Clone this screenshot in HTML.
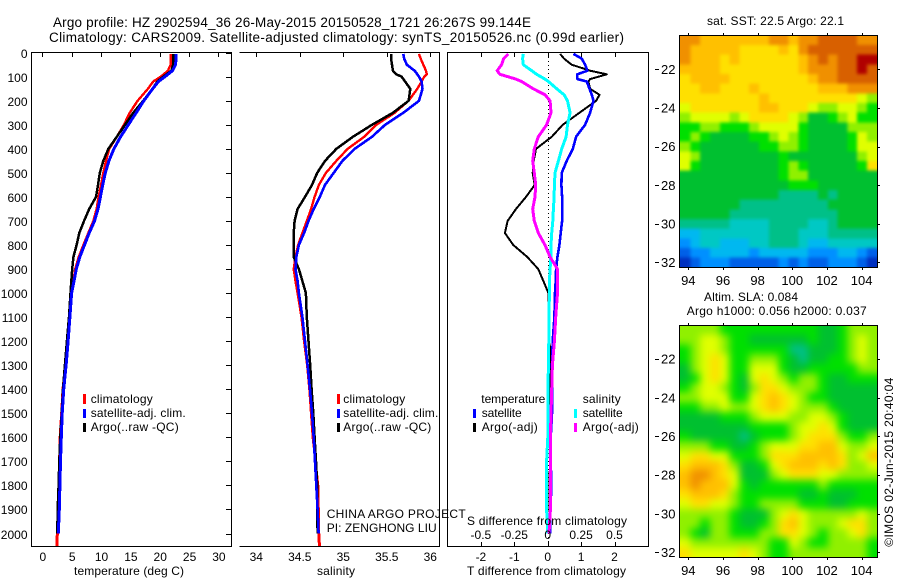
<!DOCTYPE html>
<html lang="en">
<head>
<meta charset="utf-8">
<title>Argo profile HZ 2902594_36</title>
<style>
html,body{margin:0;padding:0;background:#fff;}
svg{display:block;}
text{font-family:"Liberation Sans",sans-serif;font-size:12px;fill:#000;}
.axis{fill:none;stroke:#000;stroke-width:1;shape-rendering:crispEdges;}
.ttl{font-size:13.5px;}
.big{font-size:13px;}
</style>
</head>
<body>
<svg id="chart" xmlns="http://www.w3.org/2000/svg" width="900" height="580" viewBox="0 0 900 580">
  <defs>
    <clipPath id="clip-sst"><rect x="680" y="36" width="197" height="231"/></clipPath>
    <clipPath id="clip-sla"><rect x="680" y="326" width="197" height="231"/></clipPath>
    <filter id="blur-sst" filterUnits="userSpaceOnUse" x="650" y="5" width="250" height="295" color-interpolation-filters="sRGB"><feGaussianBlur stdDeviation="1.6"/></filter>
    <filter id="blur-sla" filterUnits="userSpaceOnUse" x="650" y="295" width="250" height="285" color-interpolation-filters="sRGB"><feGaussianBlur stdDeviation="4"/></filter>
  </defs>
  <rect x="0" y="0" width="900" height="580" fill="#fff"/>
  <text class="ttl" x="53" y="27" textLength="478" lengthAdjust="spacing">Argo profile: HZ 2902594_36 26-May-2015 20150528_1721 26:267S 99.144E</text>
  <text class="ttl" x="49" y="42" textLength="575" lengthAdjust="spacing">Climatology: CARS2009. Satellite-adjusted climatology: synTS_20150526.nc (0.99d earlier)</text>

  <g clip-path="url(#clip-sst)"><g id="heat-sst" filter="url(#blur-sst)"></g></g>
  <g clip-path="url(#clip-sla)"><g id="heat-sla" filter="url(#blur-sla)"></g></g>
  <line x1="548.5" y1="53" x2="548.5" y2="546" stroke="#000" stroke-width="1" stroke-dasharray="1 3" shape-rendering="crispEdges"/>
  <g id="series"></g>
  <g id="ticks"></g>
  <g id="labels"></g>

  <path class="axis" d="M31.5 52.5H231.5V546.5H31.5Z"/>
  <path class="axis" d="M239.5 52.5H439.5V546.5H239.5"/>
  <path class="axis" d="M447.5 52.5H648.5V546.5H447.5Z"/>
  <path class="axis" d="M679.5 35.5H877.5V267.5H679.5Z"/>
  <path class="axis" d="M679.5 325.5H877.5V557.5H679.5Z"/>

  <text x="74" y="575" textLength="110" lengthAdjust="spacing">temperature (deg C)</text>
  <text x="317" y="575" textLength="38" lengthAdjust="spacing">salinity</text>
  <text x="467" y="575" textLength="159" lengthAdjust="spacing">T difference from climatology</text>
  <text x="467" y="525" textLength="160" lengthAdjust="spacing">S difference from climatology</text>

  <g>
    <rect x="83" y="394" width="3" height="10" fill="#ff0000"/>
    <text x="90.7" y="403" textLength="62" lengthAdjust="spacing">climatology</text>
    <rect x="83" y="409" width="3" height="9" fill="#0000ff"/>
    <text x="90.7" y="417" textLength="95" lengthAdjust="spacing">satellite-adj. clim.</text>
    <rect x="83" y="423" width="3" height="9" fill="#000"/>
    <text x="90.7" y="431" textLength="88" lengthAdjust="spacing">Argo(..raw -QC)</text>
  </g>
  <g>
    <rect x="337" y="394" width="3" height="10" fill="#ff0000"/>
    <text x="343.3" y="403" textLength="62" lengthAdjust="spacing">climatology</text>
    <rect x="337" y="409" width="3" height="9" fill="#0000ff"/>
    <text x="343.3" y="417" textLength="95" lengthAdjust="spacing">satellite-adj. clim.</text>
    <rect x="337" y="423" width="3" height="9" fill="#000"/>
    <text x="343.3" y="431" textLength="88" lengthAdjust="spacing">Argo(..raw -QC)</text>
  </g>
  <g>
    <text x="481.3" y="403" textLength="64" lengthAdjust="spacing">temperature</text>
    <rect x="473" y="409" width="3" height="9" fill="#0000ff"/>
    <text x="481.7" y="417" textLength="40" lengthAdjust="spacing">satellite</text>
    <rect x="473" y="423" width="3" height="9" fill="#000"/>
    <text x="481.7" y="431" textLength="56" lengthAdjust="spacing">Argo(-adj)</text>
    <text x="582.7" y="403" textLength="38" lengthAdjust="spacing">salinity</text>
    <rect x="574" y="409" width="3" height="9" fill="#00ffff"/>
    <text x="582.7" y="417" textLength="40" lengthAdjust="spacing">satellite</text>
    <rect x="574" y="423" width="3" height="9" fill="#ff00ff"/>
    <text x="582.7" y="431" textLength="56" lengthAdjust="spacing">Argo(-adj)</text>
  </g>

  <text x="326.7" y="518" textLength="139" lengthAdjust="spacing">CHINA ARGO PROJECT</text>
  <text x="326.7" y="532" textLength="110" lengthAdjust="spacing">PI: ZENGHONG LIU</text>

  <text x="707" y="25" textLength="137" lengthAdjust="spacing">sat. SST: 22.5 Argo: 22.1</text>
  <text x="704" y="301" textLength="94" lengthAdjust="spacing">Altim. SLA: 0.084</text>
  <text x="686.7" y="315" textLength="180" lengthAdjust="spacing">Argo h1000: 0.056 h2000: 0.037</text>
  <text transform="translate(893 546.7) rotate(-90)" x="0" y="0" textLength="169" lengthAdjust="spacing">©IMOS 02-Jun-2015 20:40:04</text>
</svg>

<script>
// ---- profile depth levels (m) ----
const depthsMain = [5,25,50,75,100,120,150,200,250,300,350,400,450,500,550,600,650,700,750,800,850,900,950,1000,1100,1200,1300,1400,1500,1600,1700,1800,1900,2000];
const depthsSalinity = [5,25,50,75,90,100,120,150,200,250,300,350,400,450,500,550,600,650,700,750,800,850,900,950,1000,1100,1200,1300,1400,1500,1600,1700,1800,1900,2000];
const depthsDiff = [5,25,50,75,90,110,120,150,175,200,250,300,350,400,450,500,550,600,650,700,750,800,850,900,950,1000,1100,1200,1300,1400,1500,1600,1700,1800,1900,2000];

// ---- temperature panel (deg C) ----
const tempClim = [21.9,21.9,21.9,21.4,20.2,18.9,18.0,16.25,14.9,13.9,12.7,11.4,10.85,10.4,10.0,9.6,9.26,8.7,7.84,7.0,6.2,5.6,5.3,4.9,4.6,4.25,3.9,3.48,3.25,3.0,2.9,2.8,2.65,2.6];
const tempSat = [22.8,22.8,22.7,22.2,20.9,19.8,18.8,17.3,16.0,14.66,13.35,12.2,11.36,10.74,10.3,9.9,9.5,8.9,8.0,7.2,6.4,5.8,5.4,5.0,4.7,4.4,4.05,3.64,3.4,3.24,3.1,3.0,2.9,2.73];
const tempArgo = [22.3,22.3,22.3,22.0,20.6,19.6,18.8,17.2,15.5,14.1,12.7,11.25,10.4,9.8,9.5,9.15,8.0,7.1,6.3,5.85,5.3,5.1,4.95,4.8,4.55,4.2,3.85,3.52,3.3,3.07,2.9,2.78,2.62,2.56];
const tempClimBottom = [2.56,2.5];
const tempClimBottomDepths = [2000,2053];

// ---- salinity panel ----
const salClim = [35.87,35.89,35.92,35.95,35.96,35.93,35.9,35.85,35.75,35.59,35.38,35.24,35.05,34.92,34.8,34.72,34.67,34.63,34.58,34.53,34.48,34.45,34.43,34.45,34.475,34.52,34.55,34.585,34.61,34.63,34.65,34.68,34.71,34.716,34.72];
const salSat = [35.69,35.7,35.73,35.82,35.85,35.87,35.9,35.91,35.87,35.69,35.48,35.33,35.13,34.99,34.89,34.79,34.73,34.66,34.6,34.55,34.49,34.46,34.45,34.475,34.49,34.53,34.56,34.59,34.617,34.64,34.66,34.675,34.69,34.705,34.716];
const salArgo = [35.55,35.55,35.56,35.57,35.61,35.67,35.71,35.77,35.75,35.57,35.33,35.11,34.92,34.79,34.7,34.64,34.56,34.475,34.44,34.43,34.43,34.43,34.49,34.53,34.57,34.58,34.6,34.62,34.636,34.655,34.67,34.686,34.7,34.7,34.705];
const salClimBottom = [34.72,34.725];
const salClimBottomDepths = [2000,2053];

// ---- difference panel ----
const diffTSat = [.77,1.02,1.12,1.19,.89,.89,1.17,1.25,1.32,1.37,1.27,1.12,.85,.75,.57,.42,.41,.43,.44,.43,.39,.35,.29,.25,.24,.22,.2,.15,.13,.14,.13,.09,.09,.11,.08,.07];
const diffTArgo = [.37,.49,.72,1.27,1.77,1.27,1.22,1.27,1.55,1.45,.95,.45,.12,-.35,-.42,-.45,-.39,-.65,-.95,-1.2,-1.28,-1.03,-.61,-.28,-.13,.02,.03,.06,.07,.08,.08,.07,.07,.05,.06,.05];
const diffSSat = [-.183,-.188,-.183,-.12,-.083,-.02,.005,.068,.123,.148,.168,.148,.138,.105,.08,.055,.05,.048,.043,.038,.03,.025,.023,.018,.013,.013,.01,.008,.005,.002,.002,.001,-.008,-.008,-.008,0];
const diffSArgo = [-.295,-.33,-.345,-.378,-.358,-.238,-.195,-.108,-.02,.018,.025,-.008,-.07,-.1,-.112,-.1,-.09,-.095,-.112,-.1,-.07,-.02,.018,.073,.073,.073,.06,.05,.035,.03,.025,.02,.02,.02,.02,.01];

// ---- axis ticks and labels ----
const depthTicks = [0,100,200,300,400,500,600,700,800,900,1000,1100,1200,1300,1400,1500,1600,1700,1800,1900,2000];
const tempTicks = [0,5,10,15,20,25,30];
const salTicks = [34,34.5,35,35.5,36];
const diffTTicks = [-2,-1,0,1,2];
const diffSTicks = [-0.5,-0.25,0,0.25,0.5];
const lonTicks = [94,96,98,100,102,104];
const latTicks = [22,24,26,28,30,32];

// ---- satellite SST map, colour level per cell (north to south, west to east) ----
const sstGrid = [
[12,12,11,11,11,11,11,11,11,12,12,11,12,12,13,13,13,13,12,12],
[12,11,11,11,11,11,10,10,10,10,11,10,12,13,13,13,13,13,13,13],
[12,11,11,11,10,11,10,10,10,10,10,10,11,12,13,12,13,13,14,14],
[11,11,11,11,10,10,10,10,10,10,10,10,11,12,12,12,13,13,14,13],
[10,11,11,11,11,10,10,10,10,10,10,10,10,11,12,12,13,13,13,13],
[10,10,11,11,10,10,10,11,10,10,10,10,10,10,11,11,11,12,12,12],
[10,10,10,10,10,10,10,10,11,10,10,10,10,10,10,10,10,10,9,8],
[9,10,10,10,10,10,10,10,11,11,10,10,10,9,8,8,9,9,8,7],
[8,9,9,9,9,8,9,10,10,10,10,9,8,6,6,7,8,9,7,7],
[7,7,8,8,7,7,7,8,9,9,9,9,7,6,6,6,6,8,8,8],
[7,8,7,6,6,6,6,7,7,8,9,8,7,6,6,6,6,7,9,8],
[8,7,6,6,6,6,6,6,7,7,8,8,7,6,6,6,6,7,9,9],
[9,8,6,6,6,6,6,6,6,6,7,6,6,6,6,6,6,6,8,9],
[9,7,6,6,6,6,6,6,6,6,7,8,7,6,6,6,6,6,7,10],
[6,6,6,6,6,6,6,6,6,6,7,8,8,6,6,6,6,6,6,6],
[6,6,6,6,6,6,6,6,6,6,6,7,7,7,6,6,6,6,6,6],
[6,6,6,6,6,6,6,6,6,6,5,5,5,5,6,5,6,6,6,6],
[6,6,6,6,6,6,5,5,5,5,5,5,5,5,5,6,6,6,6,6],
[6,6,6,6,6,5,5,5,5,5,5,5,5,5,5,5,6,6,6,6],
[5,5,5,5,5,4,4,4,4,5,5,5,5,4,4,5,6,6,6,6],
[3,3,4,4,4,4,4,4,4,5,5,5,4,4,4,5,5,5,5,5],
[2,3,4,4,3,3,3,4,4,5,5,5,4,3,3,4,4,4,4,4],
[1,2,2,3,3,3,3,2,3,3,3,3,3,2,2,2,3,3,2,1],
[0,1,2,2,2,1,1,1,1,1,2,1,2,1,1,2,2,2,1,0]
];

// ---- altimetry SLA map, colour level per cell ----
const slaGrid = [
[8,8,8,8,7,7,7,7,7,7,7,7,7,7,6,6,7,8,8,8],
[8,8,9,9,8,7,7,6,6,6,6,6,6,7,6,6,7,8,9,8],
[7,8,9,9,8,7,7,7,7,7,7,5,5,6,6,6,7,8,9,8],
[7,8,9,10,9,7,7,8,8,8,7,6,5,6,6,7,7,8,9,8],
[6,8,9,10,9,7,7,9,9,9,7,6,6,7,7,7,7,7,8,8],
[6,7,9,10,9,7,6,9,10,9,8,7,8,8,7,6,6,7,7,7],
[7,8,9,9,8,7,6,8,10,10,9,8,8,8,7,6,6,6,6,6],
[8,8,9,9,9,7,7,9,10,11,10,9,8,7,7,6,6,6,6,6],
[7,7,8,8,9,8,8,9,10,11,10,9,8,8,8,7,6,6,6,6],
[6,6,6,6,7,7,7,8,9,9,9,8,8,9,9,8,7,6,6,6],
[6,6,6,6,6,6,6,7,7,7,7,8,9,9,10,9,7,6,6,6],
[7,6,6,6,6,6,5,6,7,7,7,8,9,10,10,10,8,7,7,8],
[8,8,8,7,7,6,6,7,8,9,9,9,10,10,11,11,9,8,8,9],
[9,10,10,9,9,7,7,7,8,10,10,10,11,11,11,11,10,8,9,11],
[10,11,11,11,10,8,6,6,7,9,10,11,11,11,10,11,10,8,8,9],
[11,12,12,11,10,9,6,6,6,8,9,10,10,10,9,9,8,8,8,8],
[11,12,11,11,11,9,7,6,7,7,7,7,7,7,8,7,7,7,7,7],
[10,11,11,11,10,8,7,7,7,7,7,7,6,6,7,6,6,6,7,7],
[9,10,10,9,9,8,7,7,8,8,8,8,7,7,7,6,6,7,7,7],
[8,8,8,8,8,7,6,6,6,8,9,10,9,8,8,8,8,8,9,8],
[8,8,7,8,8,7,6,6,7,8,10,11,9,8,8,8,9,10,10,8],
[8,7,6,8,8,7,7,7,8,8,10,10,9,8,7,8,8,9,10,8],
[9,8,8,8,8,8,8,8,8,7,7,9,8,7,7,8,8,8,8,7],
[10,9,9,9,9,9,10,9,8,7,7,8,8,8,8,8,8,8,8,7]
];

const NS = 'http://www.w3.org/2000/svg';
const palette = ['#0030c0','#0060e8','#0090ff','#00b8f0','#00c8c4','#00c088','#00c030','#00e000','#90f000','#e0ff00','#ffe000','#ffc000','#f09000','#d86000','#b00000'];

// axis functions
function yDepth(d){ return 52.7 + d * 0.2404; }
function xTemp(t){ return 42.3 + t * 5.867; }
function xSal(s){ return 256.3 + (s - 34) * 87; }
function xDiffT(t){ return 547.7 + t * 33.4; }
function xDiffS(s){ return xDiffT(s * 4); }
function xLon(l){ return 688.3 + (l - 94) * 17.33; }
function ySstLat(l){ return 69.3 + (l - 22) * 19.3; }
function ySlaLat(l){ return 359 + (l - 22) * 19.33; }
const lonMin = 93.55, lonMax = 104.88;
const sstLatTop = 20.24, sstLatBottom = 32.26;
const slaLatTop = 20.24, slaLatBottom = 32.26;

function make(tag, attrs, parentId, content){
  const el = document.createElementNS(NS, tag);
  for (const k in attrs) el.setAttribute(k, attrs[k]);
  if (content !== undefined) el.textContent = content;
  document.getElementById(parentId).appendChild(el);
  return el;
}

function drawLine(depths, values, xFn, color, width, name){
  const pts = depths.map(function(d, i){ return xFn(values[i]).toFixed(1) + ',' + yDepth(d).toFixed(1); }).join(' ');
  const el = make('polyline', {points: pts, fill: 'none', stroke: color, 'stroke-width': width, 'shape-rendering': 'crispEdges', 'stroke-linejoin': 'round'}, 'series');
  
  
}

drawLine(depthsMain, tempClim, xTemp, '#ff0000', 2.4, 'temperature-climatology-line');
drawLine(tempClimBottomDepths, tempClimBottom, xTemp, '#ff0000', 3, 'temperature-climatology-bottom-line');
drawLine(depthsMain, tempArgo, xTemp, '#000000', 2.5, 'temperature-argo-line');
drawLine(depthsMain, tempSat, xTemp, '#0000ff', 3, 'temperature-satellite-line');

drawLine(depthsSalinity, salClim, xSal, '#ff0000', 2.4, 'salinity-climatology-line');
drawLine(salClimBottomDepths, salClimBottom, xSal, '#ff0000', 3, 'salinity-climatology-bottom-line');
drawLine(depthsSalinity, salArgo, xSal, '#000000', 2.5, 'salinity-argo-line');
drawLine(depthsSalinity, salSat, xSal, '#0000ff', 2.6, 'salinity-satellite-line');

drawLine(depthsDiff, diffTArgo, xDiffT, '#000000', 2, 'difference-t-argo-line');
drawLine(depthsDiff, diffTSat, xDiffT, '#0000ff', 2.6, 'difference-t-satellite-line');
drawLine(depthsDiff, diffSSat, xDiffS, '#00ffff', 3, 'difference-s-satellite-line');
drawLine(depthsDiff, diffSArgo, xDiffS, '#ff00ff', 3, 'difference-s-argo-line');

function drawHeat(grid, parentId, latTop, latBottom, yFn, name){
  const rows = grid.length;
  const bleed = 14;
  grid.forEach(function(row, r){
    row.forEach(function(v, c){
      const w = (lonMax - lonMin) / row.length;
      const h = (latBottom - latTop) / rows;
      const x0 = xLon(lonMin + c * w) - (c === 0 ? bleed : 0);
      const x1 = xLon(lonMin + (c + 1) * w) + (c === row.length - 1 ? bleed : 0);
      const y0 = yFn(latTop + r * h) - (r === 0 ? bleed : 0);
      const y1 = yFn(latTop + (r + 1) * h) + (r === rows - 1 ? bleed : 0);
      const cell = make('rect', {x: x0.toFixed(1), y: y0.toFixed(1), width: (x1 - x0 + 0.6).toFixed(1), height: (y1 - y0 + 0.6).toFixed(1), fill: palette[Math.max(0, Math.min(palette.length - 1, Math.round(v)))], 'shape-rendering': 'crispEdges'}, parentId);
      
      
    });
  });
}
drawHeat(sstGrid, 'heat-sst', sstLatTop, sstLatBottom, ySstLat, 'sst-cell');
drawHeat(slaGrid, 'heat-sla', slaLatTop, slaLatBottom, ySlaLat, 'sla-cell');

function tick(x1, y1, x2, y2, name){
  const t = make('line', {x1: x1, y1: y1, x2: x2, y2: y2, stroke: '#000', 'stroke-width': 1, 'shape-rendering': 'crispEdges'}, 'ticks');
  
  
}
function label(x, y, anchor, str, size, name){
  const t = make('text', {x: x, y: y, 'text-anchor': anchor, style: 'font-size:' + size + 'px'}, 'labels', str);
  
  
}

depthTicks.forEach(function(d){
  const y = Math.round(yDepth(d)) + 0.5;
  tick(226, y, 231, y, 'depth-tick');
  label(27.5, y + 4.3, 'end', String(d), 12, 'depth-tick-label');
});
tempTicks.forEach(function(t){
  const x = Math.round(xTemp(t)) + 0.5;
  tick(x, 53, x, 57, 'temperature-tick');
  label(xTemp(t) + 0.6, 561, 'middle', String(t), 12, 'temperature-tick-label');
});
salTicks.forEach(function(s){
  const x = Math.round(xSal(s)) + 0.5;
  tick(x, 53, x, 57, 'salinity-tick');
  label(xSal(s), 561, 'middle', String(s), 12, 'salinity-tick-label');
});
diffTTicks.forEach(function(t){
  const x = Math.round(xDiffT(t)) + 0.5;
  tick(x, 53, x, 57, 'difference-top-tick');
  tick(x, 542, x, 546, 'difference-bottom-tick');
  label(xDiffT(t), 561, 'middle', String(t), 12, 't-difference-tick-label');
});
diffSTicks.forEach(function(s){
  label(xDiffS(s), 539, 'middle', String(s), 12, 's-difference-tick-label');
});
lonTicks.forEach(function(l){
  const x = Math.round(xLon(l)) + 0.5;
  tick(x, 33, x, 35, 'sst-lon-top-tick');
  tick(x, 268, x, 270, 'sst-lon-bottom-tick');
  tick(x, 323, x, 325, 'sla-lon-top-tick');
  tick(x, 558, x, 560, 'sla-lon-bottom-tick');
  label(xLon(l), 285, 'middle', String(l), 13, 'sst-lon-label');
  label(xLon(l), 575, 'middle', String(l), 13, 'sla-lon-label');
});
latTicks.forEach(function(l){
  const y1 = Math.round(ySstLat(l)) + 0.5, y2 = Math.round(ySlaLat(l)) + 0.5;
  tick(878, y1, 880, y1, 'sst-lat-right-tick');
  tick(655, y1, 659, y1, 'sst-lat-left-tick');
  tick(878, y2, 880, y2, 'sla-lat-right-tick');
  tick(655, y2, 659, y2, 'sla-lat-left-tick');
  label(675.5, ySstLat(l) + 4.7, 'end', String(l), 13, 'sst-lat-label');
  label(675.5, ySlaLat(l) + 4.7, 'end', String(l), 13, 'sla-lat-label');
});
</script>
</body>
</html>
